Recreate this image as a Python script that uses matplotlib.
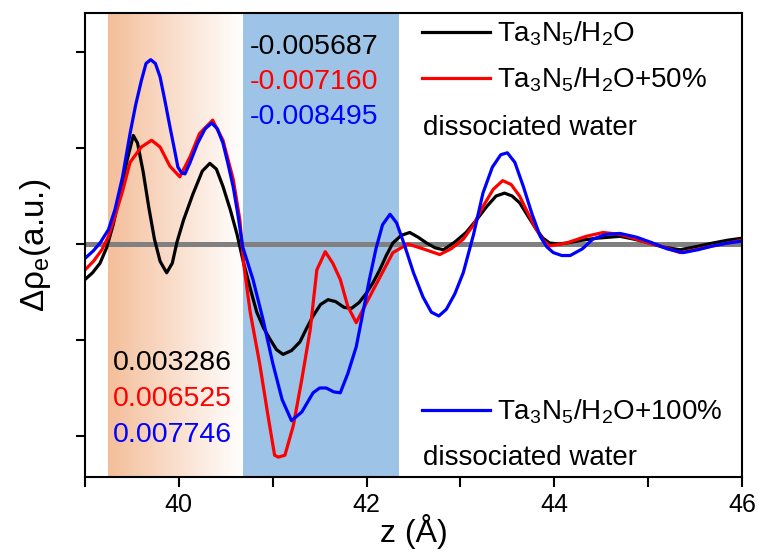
import numpy as np
import matplotlib
matplotlib.use("Agg")
import matplotlib.pyplot as plt
from matplotlib.ticker import FixedLocator, NullFormatter

plt.rcParams['font.family'] = ['Liberation Sans', 'DejaVu Sans']
plt.rcParams['mathtext.fontset'] = 'custom'
plt.rcParams['mathtext.rm'] = 'Liberation Sans'
plt.rcParams['mathtext.it'] = 'Liberation Sans:italic'
plt.rcParams['mathtext.bf'] = 'Liberation Sans:bold'

# ---------------- data ----------------
z_black = [39.00, 39.08, 39.16, 39.23, 39.30, 39.38, 39.45, 39.515, 39.56, 39.62, 39.68, 39.74,
           39.80, 39.87, 39.93, 39.98, 40.05, 40.15, 40.25, 40.33, 40.40, 40.47, 40.55, 40.62,
           40.69, 40.76, 40.83, 40.90, 40.97, 41.04, 41.11, 41.20, 41.29, 41.36, 41.43, 41.51,
           41.59, 41.67, 41.76, 41.84, 41.92, 42.00, 42.07, 42.14, 42.21, 42.28, 42.37, 42.46,
           42.55, 42.64, 42.73, 42.82, 42.94, 43.06, 43.17, 43.28, 43.38, 43.47, 43.55, 43.63,
           43.72, 43.81, 43.88, 43.95, 44.05, 44.13, 44.30, 44.45, 44.70, 44.85, 44.98, 45.15,
           45.34, 45.50, 45.69, 45.85, 46.00]
rho_black = [-0.37, -0.30, -0.20, -0.04, 0.20, 0.55, 0.88, 1.13, 1.05, 0.75, 0.38, 0.05,
             -0.18, -0.30, -0.20, 0.02, 0.25, 0.52, 0.76, 0.84, 0.78, 0.60, 0.35, 0.10,
             -0.20, -0.46, -0.71, -0.87, -0.99, -1.10, -1.15, -1.11, -1.02, -0.88, -0.75, -0.63,
             -0.58, -0.60, -0.66, -0.67, -0.61, -0.51, -0.40, -0.27, -0.12, 0.01, 0.09, 0.12,
             0.07, 0.01, -0.04, -0.06, 0.02, 0.12, 0.25, 0.39, 0.50, 0.53, 0.50, 0.43,
             0.29, 0.15, 0.06, 0.01, 0.00, 0.01, 0.04, 0.06, 0.08, 0.05, 0.02, -0.03,
             -0.06, -0.03, 0.01, 0.04, 0.06]

z_red = [39.00, 39.09, 39.18, 39.25, 39.32, 39.40, 39.48, 39.60, 39.71, 39.80, 39.905, 40.01,
         40.12, 40.22, 40.36, 40.47, 40.58, 40.65, 40.69, 40.76, 40.86, 40.95, 41.02, 41.06,
         41.13, 41.22, 41.31, 41.40, 41.47, 41.56, 41.64, 41.72, 41.80, 41.89, 42.00, 42.14,
         42.28, 42.44, 42.60, 42.78, 42.90, 43.03, 43.14, 43.24, 43.35, 43.45, 43.54, 43.63,
         43.72, 43.81, 43.88, 43.95, 44.13, 44.34, 44.52, 44.70, 44.84, 45.00, 45.13, 45.34,
         45.50, 45.69, 45.85, 46.00]
rho_red = [-0.27, -0.18, -0.06, 0.08, 0.29, 0.55, 0.85, 1.01, 1.08, 1.01, 0.81, 0.70,
           0.91, 1.15, 1.29, 1.08, 0.67, 0.25, -0.20, -0.71, -1.24, -1.79, -2.20, -2.22,
           -2.20, -1.89, -1.41, -0.89, -0.27, -0.08, -0.20, -0.37, -0.65, -0.82, -0.61, -0.35,
           -0.09, 0.00, -0.05, -0.11, -0.05, 0.05, 0.20, 0.39, 0.57, 0.66, 0.62, 0.50,
           0.32, 0.15, 0.04, -0.02, 0.01, 0.08, 0.12, 0.10, 0.06, 0.01, -0.02, -0.09,
           -0.06, -0.02, 0.01, 0.04]

z_blue = [39.00, 39.09, 39.16, 39.25, 39.32, 39.40, 39.48, 39.54, 39.60, 39.65, 39.70, 39.75,
          39.80, 39.85, 39.905, 39.95, 39.99, 40.03, 40.065, 40.12, 40.20, 40.28, 40.35, 40.41,
          40.47, 40.52, 40.58, 40.63, 40.68, 40.79, 40.90, 41.00, 41.10, 41.20, 41.31, 41.43,
          41.50, 41.57, 41.65, 41.72, 41.80, 41.89, 41.96, 42.03, 42.10, 42.17, 42.25, 42.32,
          42.40, 42.50, 42.60, 42.69, 42.77, 42.85, 42.94, 43.03, 43.14, 43.24, 43.34, 43.43,
          43.50, 43.58, 43.67, 43.76, 43.85, 43.92, 43.99, 44.08, 44.17, 44.30, 44.41, 44.55,
          44.70, 44.88, 45.05, 45.20, 45.37, 45.53, 45.69, 45.85, 46.00]
rho_blue = [-0.15, -0.07, 0.01, 0.15, 0.36, 0.70, 1.15, 1.45, 1.70, 1.88, 1.92, 1.88,
            1.74, 1.50, 1.22, 1.00, 0.80, 0.74, 0.73, 0.85, 1.05, 1.20, 1.26, 1.20,
            1.05, 0.85, 0.59, 0.30, -0.03, -0.37, -0.80, -1.24, -1.62, -1.84, -1.75, -1.55,
            -1.50, -1.50, -1.54, -1.55, -1.35, -1.07, -0.72, -0.37, -0.05, 0.20, 0.31, 0.22,
            0.00, -0.30, -0.55, -0.71, -0.75, -0.68, -0.52, -0.30, 0.10, 0.53, 0.80, 0.93,
            0.95, 0.85, 0.60, 0.32, 0.08, -0.03, -0.09, -0.12, -0.12, -0.05, 0.05, 0.10,
            0.11, 0.07, 0.01, -0.05, -0.09, -0.06, -0.02, 0.01, 0.03]

series_labels = ['Ta$_3$N$_5$/H$_2$O', 'Ta$_3$N$_5$/H$_2$O+50%', 'Ta$_3$N$_5$/H$_2$O+100%']
extra_label = 'dissociated water'
top_values = ['-0.005687', '-0.007160', '-0.008495']
bottom_values = ['0.003286', '0.006525', '0.007746']
x_ticks_major = [40, 42, 44, 46]
x_ticks_minor = [39, 41, 43, 45]
y_ticks = [-2, -1, 0, 1, 2]
orange_region = (39.245, 40.68)
blue_region = (40.68, 42.35)

# ---------------- figure ----------------
fig = plt.figure(figsize=(7.58, 5.54), dpi=100)
ax = fig.add_axes([85 / 758, 77 / 554, 657 / 758, 464 / 554])
xlim = (39, 46)
ylim = (-2.427, 2.406)

colors = ['black', '#FF0000', '#0000FF']

# gradient orange region
grad = np.linspace(0, 1, 256).reshape(1, -1)
c0 = np.array([244, 190, 154]) / 255.0
c1 = np.array([255, 255, 255]) / 255.0
img = c0[None, None, :] * (1 - grad[..., None]) + c1[None, None, :] * grad[..., None]
ax.imshow(img, extent=[orange_region[0], orange_region[1], ylim[0], ylim[1]],
          aspect='auto', zorder=0, interpolation='bilinear')
ax.axvspan(blue_region[0], blue_region[1], color='#9DC3E6', zorder=0, lw=0)

ax.axhline(0, color='#808080', lw=3.6, zorder=1)

lines = []
for zz, rr, c, lab in zip([z_black, z_red, z_blue], [rho_black, rho_red, rho_blue],
                          colors, series_labels):
    ln, = ax.plot(zz, rr, color=c, lw=2.3, label=lab, zorder=2, solid_joinstyle='round')
    lines.append(ln)

ax.set_xlim(*xlim)
ax.set_ylim(*ylim)

ax.xaxis.set_major_locator(FixedLocator(x_ticks_major))
ax.xaxis.set_minor_locator(FixedLocator(x_ticks_minor))
ax.xaxis.set_minor_formatter(NullFormatter())
ax.yaxis.set_major_locator(FixedLocator(y_ticks))
ax.set_yticklabels([])
ax.tick_params(axis='x', which='both', direction='out', length=7.5, width=1.5,
               labelsize=18, pad=4)
ax.tick_params(axis='y', which='both', direction='out', length=6.5, width=1.5)
for s in ax.spines.values():
    s.set_linewidth(1.5)

ax.set_xlabel('z (Å)', fontsize=23, labelpad=-2)
ax.set_ylabel('Δρ$_\\mathrm{e}$(a.u.)', fontsize=24, labelpad=13)

# legends
leg1 = ax.legend(handles=lines[:2], loc='upper left', bbox_to_anchor=(0.513, 0.986),
                 frameon=False, fontsize=20, handlelength=2.45, handletextpad=0.25,
                 labelspacing=0.63, borderpad=0, borderaxespad=0)
ax.add_artist(leg1)
leg2 = ax.legend(handles=lines[2:], loc='upper left', bbox_to_anchor=(0.513, 0.171),
                 frameon=False, fontsize=20, handlelength=2.45, handletextpad=0.25,
                 borderpad=0, borderaxespad=0)

ax.text(0.514, 0.753, extra_label, transform=ax.transAxes, fontsize=20,
        ha='left', va='center')
ax.text(0.514, 0.041, extra_label, transform=ax.transAxes, fontsize=20,
        ha='left', va='center')

for i, (t, c) in enumerate(zip(top_values, colors)):
    ax.text(0.251, 0.926 - i * 0.0755, t, transform=ax.transAxes, fontsize=20.5,
            color=c, ha='left', va='center')
for i, (t, c) in enumerate(zip(bottom_values, colors)):
    ax.text(0.0426, 0.2455 - i * 0.0775, t, transform=ax.transAxes, fontsize=20.5,
            color=c, ha='left', va='center')

fig.savefig('out.png', dpi=100)
